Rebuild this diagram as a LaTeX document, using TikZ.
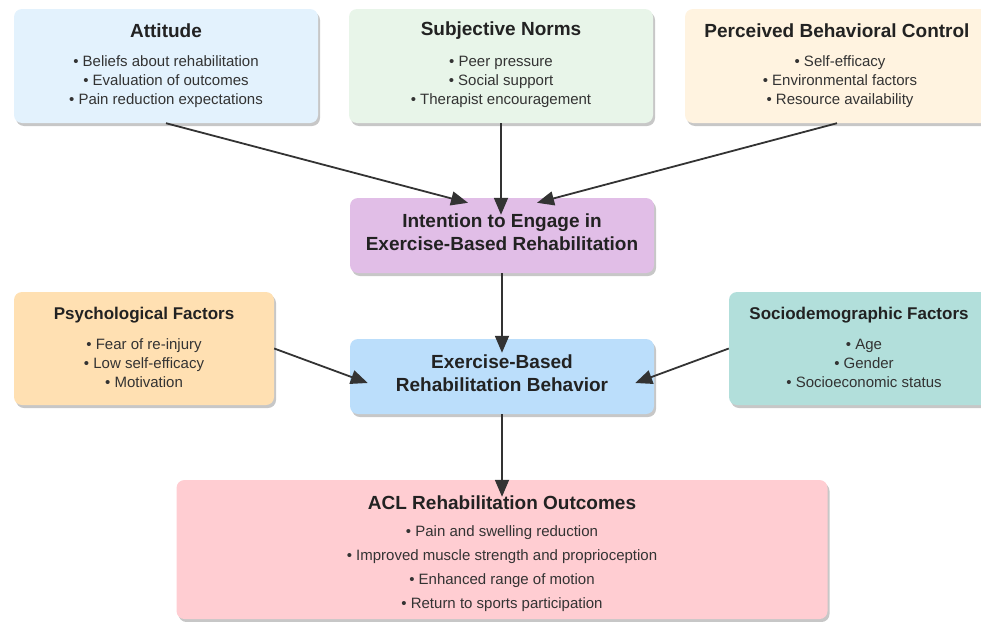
\documentclass[tikz,border=0pt]{standalone}
\usepackage{fontspec}
\setmainfont{Liberation Sans}
\usetikzlibrary{arrows.meta,shadows,calc}
\definecolor{cAtt}{HTML}{E3F2FD}
\definecolor{cSN}{HTML}{E8F5E9}
\definecolor{cPBC}{HTML}{FFF3E0}
\definecolor{cInt}{HTML}{E1BEE7}
\definecolor{cPsy}{HTML}{FFE0B2}
\definecolor{cBeh}{HTML}{BBDEFB}
\definecolor{cSoc}{HTML}{B2DFDB}
\definecolor{cACL}{HTML}{FFCDD2}
\definecolor{cTxt}{HTML}{222222}
\definecolor{cLst}{HTML}{333333}
\definecolor{cArr}{HTML}{333333}
\begin{document}
\begin{tikzpicture}[x=1pt,y=-1pt,
  box/.style={rounded corners=8pt, fill=#1, draw=none, inner sep=0pt,
    drop shadow={shadow xshift=2pt, shadow yshift=-3pt, opacity=0.22, fill=black}},
  ttl/.style={font=\fontsize{19}{23}\selectfont\bfseries, text=cTxt, align=center, inner sep=0pt},
  sttl/.style={font=\fontsize{17}{20}\selectfont\bfseries, text=cTxt, align=center, inner sep=0pt},
  lst/.style={font=\fontsize{15}{19}\selectfont, text=cLst, align=center, inner sep=0pt},
  lstw/.style={font=\fontsize{15}{24}\selectfont, text=cLst, align=center, inner sep=0pt},
  arr/.style={draw=cArr, line width=1.8pt, -{Triangle[length=17pt,width=14pt]}}]
\useasboundingbox (0,0) rectangle (981,621);
\clip (0,0) rectangle (981,621);
% boxes
\node[box=cAtt, minimum width=304pt, minimum height=114pt] (att) at (166,66) {};
\node[box=cSN, minimum width=304pt, minimum height=114pt] (sn) at (501,66) {};
\node[box=cPBC, minimum width=304pt, minimum height=114pt] (pbc) at (837,66) {};
\node[box=cInt, minimum width=304pt, minimum height=75pt] (int) at (502,235.5) {};
\node[box=cPsy, minimum width=260pt, minimum height=113pt] (psy) at (144,348.5) {};
\node[box=cBeh, minimum width=304pt, minimum height=75pt] (beh) at (502,376.5) {};
\node[box=cSoc, minimum width=260pt, minimum height=113pt] (soc) at (859,348.5) {};
\node[box=cACL, minimum width=651pt, minimum height=139pt] (acl) at (502,549.5) {};
% texts
\node[ttl] (attT) at (166,31) {Attitude};
\node[lst] (attL) at (166,82) {• Beliefs about rehabilitation\\• Evaluation of outcomes\\• Pain reduction expectations};
\node[ttl] (snT) at (501,31) {Subjective Norms};
\node[lst] (snL) at (501,82) {• Peer pressure\\• Social support\\• Therapist encouragement};
\node[ttl] (pbcT) at (837,31) {Perceived Behavioral Control};
\node[lst] (pbcL) at (840,82) {• Self-efficacy\\• Environmental factors\\• Resource availability};
\node[ttl] (intT) at (502,232) {Intention to Engage in\\Exercise-Based Rehabilitation};
\node[sttl] (psyT) at (144,315) {Psychological Factors};
\node[lst] (psyL) at (144,363) {• Fear of re-injury\\• Low self-efficacy\\• Motivation};
\node[ttl] (behT) at (502,373) {Exercise-Based\\Rehabilitation Behavior};
\node[sttl] (socT) at (859,315) {Sociodemographic Factors};
\node[lst] (socL) at (864,363) {• Age\\• Gender\\• Socioeconomic status};
\node[ttl] (aclT) at (502,503) {ACL Rehabilitation Outcomes};
\node[lstw] (aclL) at (502,569) {• Pain and swelling reduction\\• Improved muscle strength and proprioception\\• Enhanced range of motion\\• Return to sports participation};
% connectors
\draw[arr] (att.south) -- ($(int.north)+(-34,5)$);
\draw[arr] (sn.south) -- ($(int.north)+(-1,17)$);
\draw[arr] (pbc.south) -- ($(int.north)+(35,5)$);
\draw[arr] (int.south) -- ($(beh.north)+(0,14)$);
\draw[arr] (psy.east) -- ($(beh.west)+(18,6.5)$);
\draw[arr] (soc.west) -- ($(beh.east)+(-19,6.5)$);
\draw[arr] (beh.south) -- ($(acl.north)+(0,17)$);
\end{tikzpicture}
\end{document}
